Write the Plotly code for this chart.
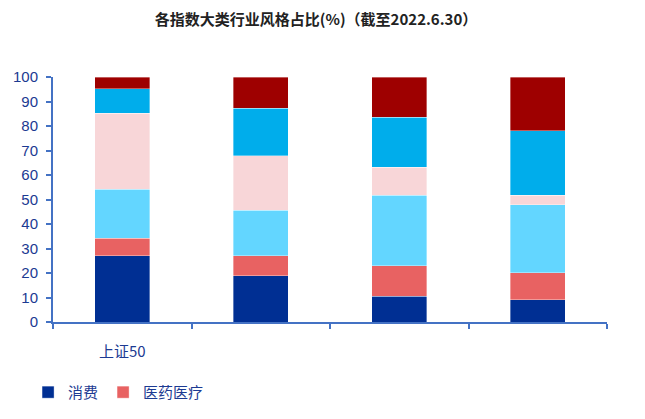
import plotly.graph_objects as go

categories = ["上证50", "沪深300", "中证500", "中证1000"]
tick_labels = ["上证50", "", "", ""]

series_names = ["消费", "医药医疗", "科技", "周期", "制造", "金融"]
consumer = [27.0, 18.8, 10.5, 9.1]
medical = [7.2, 8.3, 12.4, 11.0]
tech = [20.0, 18.6, 28.8, 27.7]
cycle = [31.0, 22.2, 11.4, 3.9]
manuf = [10.0, 19.3, 20.4, 26.3]
finance = [4.8, 12.8, 16.5, 22.0]
series_values = [consumer, medical, tech, cycle, manuf, finance]
colors = ["#002F93", "#E86262", "#63D6FF", "#F8D6D8", "#00ADEB", "#9E0000"]
show_in_legend = [True, True, False, False, False, False]

FONT = "Arial, 'Liberation Sans', 'Noto Sans CJK SC', sans-serif"
CJK = "'Noto Sans CJK SC', sans-serif"
NAVY = "#1c3a92"
AXIS = "#4472C4"

fig = go.Figure()
for name, vals, col, sl in zip(series_names, series_values, colors, show_in_legend):
    fig.add_trace(go.Bar(
        x=categories, y=vals, name=name, marker_color=col,
        marker_line_width=0.6, marker_line_color="rgba(255,255,255,0.6)",
        showlegend=sl,
    ))

fig.update_layout(
    barmode="stack",
    bargap=0.6,
    width=645, height=419,
    margin=dict(l=53, r=38, t=77, b=97, autoexpand=False),
    plot_bgcolor="white", paper_bgcolor="white",
    title=dict(
        text="<b>各指数大类行业风格占比(%)（截至2022.6.30）</b>",
        x=0.49, xanchor="center", y=1 - 20 / 419, yanchor="middle",
        font=dict(family=CJK, size=15, color="#222222"),
    ),
    legend=dict(
        orientation="h", x=-0.045, xanchor="left", y=-0.22, yanchor="top",
        font=dict(family=CJK, size=15, color=NAVY),
        itemwidth=30, traceorder="normal", tracegroupgap=0,
    ),
    font=dict(family=FONT),
)

fig.update_yaxes(
    range=[0, 100], dtick=10, showgrid=False, automargin=False,
    showline=True, linecolor=AXIS, linewidth=2,
    ticks="outside", ticklen=5, tickcolor=AXIS, tickwidth=2,
    tickfont=dict(family=FONT, size=15, color=NAVY),
    ticklabelstandoff=5,
    zeroline=False,
)
fig.update_xaxes(
    type="category", automargin=False,
    tickmode="array", tickvals=categories, ticktext=tick_labels,
    tickson="boundaries",
    showline=True, linecolor=AXIS, linewidth=2,
    ticks="outside", ticklen=5, tickcolor=AXIS, tickwidth=2,
    tickfont=dict(family=CJK, size=15, color=NAVY),
    ticklabelstandoff=15,
    showgrid=False,
)

fig.write_html(
    "out.html",
    config={"displayModeBar": False},
    post_script="document.body.style.margin='0';document.body.style.overflow='hidden';",
)
